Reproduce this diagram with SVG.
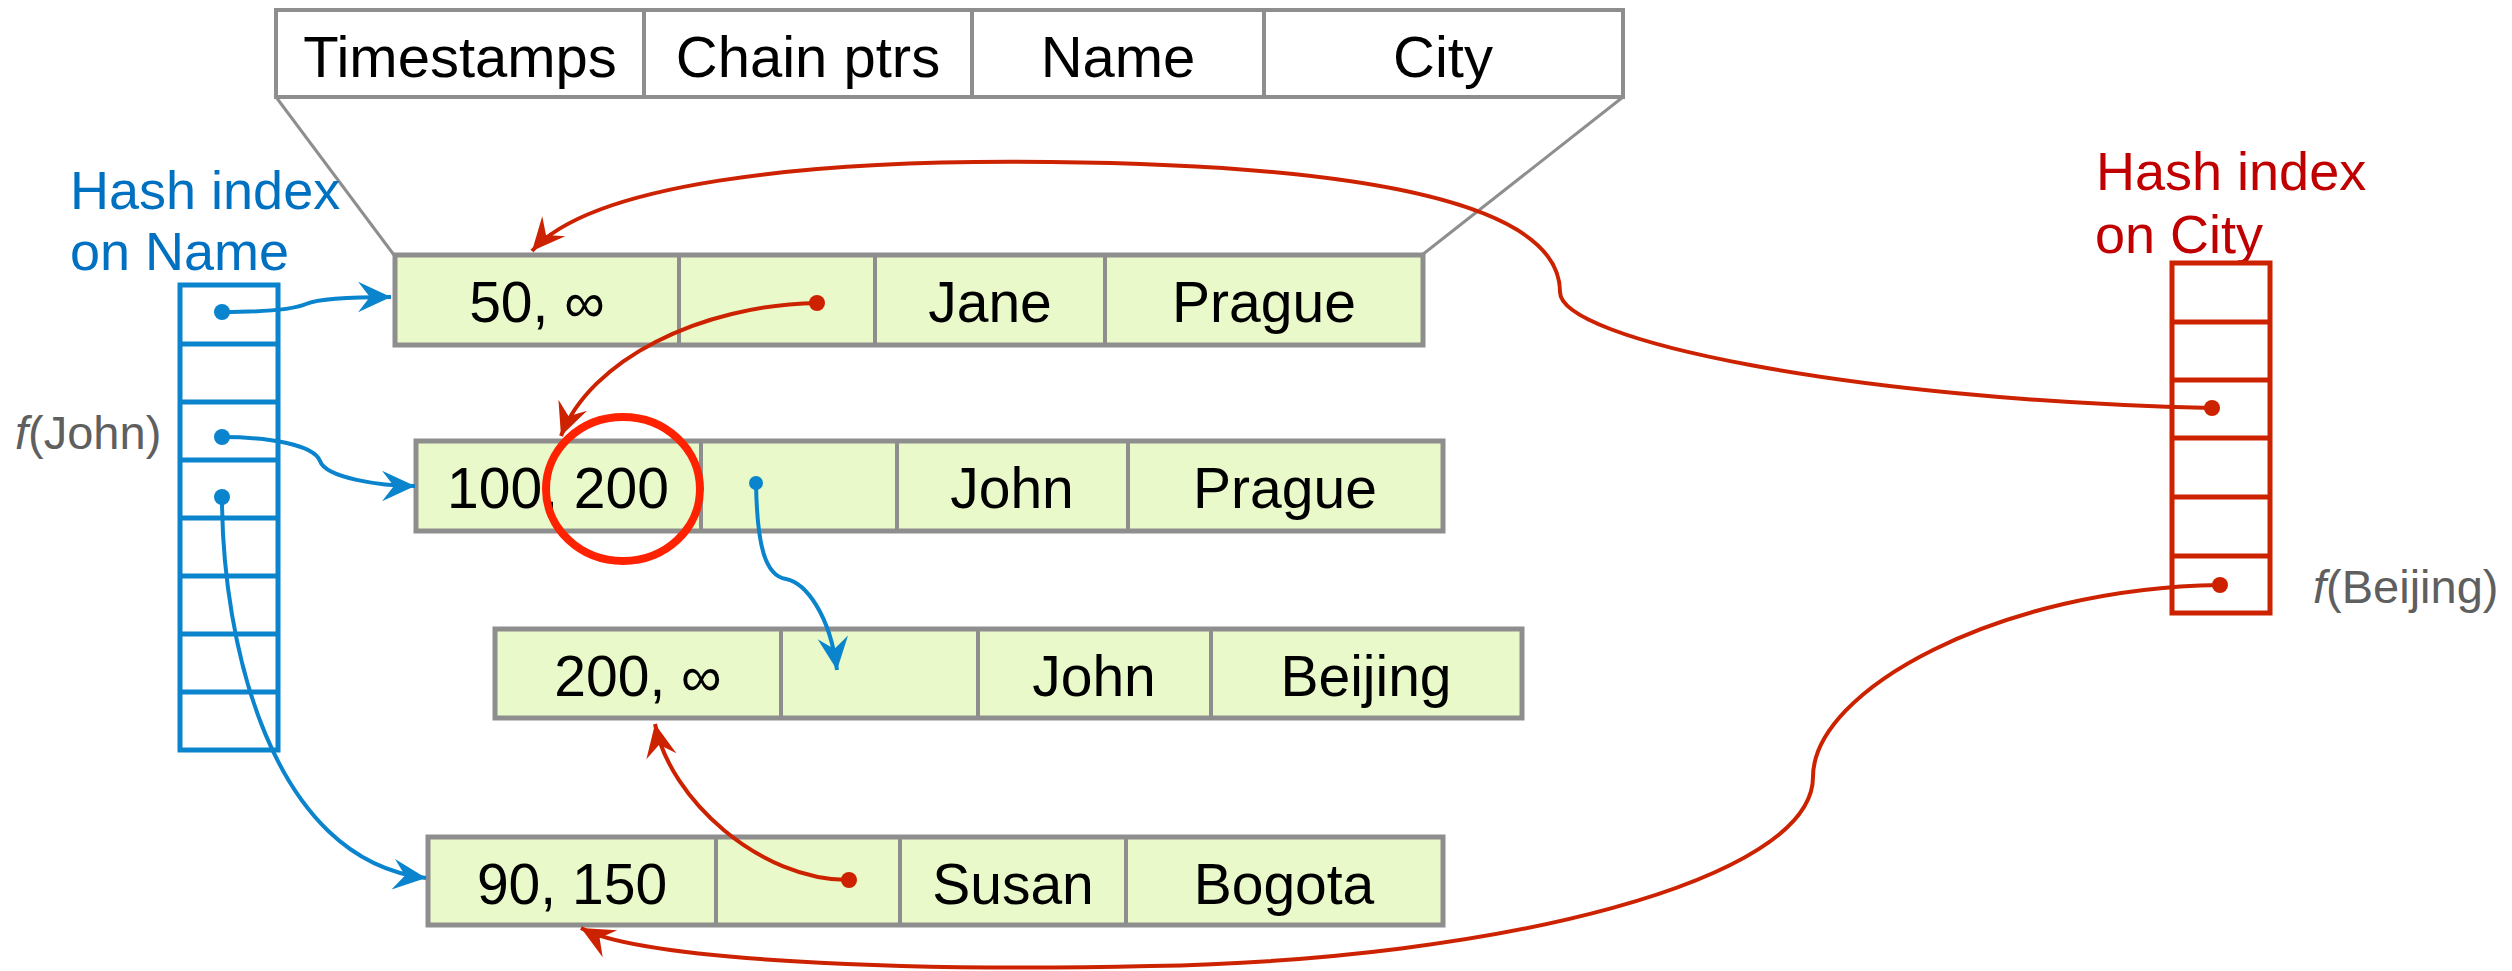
<svg xmlns="http://www.w3.org/2000/svg" width="2512" height="971" viewBox="0 0 2512 971">
  <defs>
    <style>
      .cell { fill: #e9f9ca; stroke: #8e8e8e; stroke-width: 5; }
      .div { stroke: #8e8e8e; stroke-width: 4; }
      .hdr { fill: #ffffff; stroke: #8e8e8e; stroke-width: 4; }
      .txt { font-family: "Liberation Sans", Arial, sans-serif; font-size: 57px; fill: #000000; text-anchor: middle; }
      .hdrtxt { font-family: "Liberation Sans", Arial, sans-serif; font-size: 58px; fill: #000000; text-anchor: middle; }
      .lbl { font-family: "Liberation Sans", Arial, sans-serif; font-size: 54px; }
      .fn { font-family: "Liberation Sans", Arial, sans-serif; font-size: 47px; fill: #5f5f5f; }
      .bidx { fill: none; stroke: #0a84cc; stroke-width: 5; }
      .ridx { fill: none; stroke: #cc2200; stroke-width: 5; }
      .blue { fill: none; stroke: #0a84cc; stroke-width: 4; }
      .red { fill: none; stroke: #cc2200; stroke-width: 4; }
      .bdot { fill: #0a84cc; }
      .rdot { fill: #cc2200; }
    </style>
    <marker id="arrowBlue" markerUnits="userSpaceOnUse" markerWidth="40" markerHeight="40" viewBox="-30 -16 34 32" refX="0" refY="0" orient="auto">
      <path d="M0,0 L-28,-13 L-18,0 L-28,13 Z" fill="#0a84cc"/>
    </marker>
    <marker id="arrowRed" markerUnits="userSpaceOnUse" markerWidth="40" markerHeight="40" viewBox="-30 -16 34 32" refX="0" refY="0" orient="auto">
      <path d="M0,0 L-28,-13 L-18,0 L-28,13 Z" fill="#cc2200"/>
    </marker>
  </defs>

  <rect width="2512" height="971" fill="#ffffff"/>

  <!-- record layout header with its expansion lines -->
  <g id="header">
    <line x1="276" y1="97" x2="394" y2="255" stroke="#8e8e8e" stroke-width="3"/>
    <line x1="1623" y1="97" x2="1422" y2="255" stroke="#8e8e8e" stroke-width="3"/>
    <rect class="hdr" x="276" y="10" width="1347" height="87"/>
    <line class="div" x1="644" y1="10" x2="644" y2="97"/>
    <line class="div" x1="972" y1="10" x2="972" y2="97"/>
    <line class="div" x1="1264" y1="10" x2="1264" y2="97"/>
    <text class="hdrtxt" x="460" y="77">Timestamps</text>
    <text class="hdrtxt" x="808" y="77">Chain ptrs</text>
    <text class="hdrtxt" x="1118" y="77">Name</text>
    <text class="hdrtxt" x="1443" y="77">City</text>
  </g>

  <!-- record versions -->
  <g id="row-jane">
    <rect class="cell" x="395" y="255" width="1028" height="90"/>
    <line class="div" x1="679" y1="255" x2="679" y2="345"/>
    <line class="div" x1="875" y1="255" x2="875" y2="345"/>
    <line class="div" x1="1105" y1="255" x2="1105" y2="345"/>
    <text class="txt" x="537" y="322">50, ∞</text>
    <text class="txt" x="990" y="322">Jane</text>
    <text class="txt" x="1264" y="322">Prague</text>
  </g>

  <g id="row-john-prague">
    <rect class="cell" x="416" y="441" width="1027" height="90"/>
    <line class="div" x1="701" y1="441" x2="701" y2="531"/>
    <line class="div" x1="897" y1="441" x2="897" y2="531"/>
    <line class="div" x1="1128" y1="441" x2="1128" y2="531"/>
    <text class="txt" x="558" y="508">100, 200</text>
    <text class="txt" x="1012" y="508">John</text>
    <text class="txt" x="1285" y="508">Prague</text>
  </g>

  <g id="row-john-beijing">
    <rect class="cell" x="495" y="629" width="1027" height="89"/>
    <line class="div" x1="781" y1="629" x2="781" y2="718"/>
    <line class="div" x1="978" y1="629" x2="978" y2="718"/>
    <line class="div" x1="1211" y1="629" x2="1211" y2="718"/>
    <text class="txt" x="638" y="696">200, ∞</text>
    <text class="txt" x="1094" y="696">John</text>
    <text class="txt" x="1366" y="696">Beijing</text>
  </g>

  <g id="row-susan">
    <rect class="cell" x="428" y="837" width="1015" height="88"/>
    <line class="div" x1="716" y1="837" x2="716" y2="925"/>
    <line class="div" x1="900" y1="837" x2="900" y2="925"/>
    <line class="div" x1="1126" y1="837" x2="1126" y2="925"/>
    <text class="txt" x="572" y="904">90, 150</text>
    <text class="txt" x="1013" y="904">Susan</text>
    <text class="txt" x="1284" y="904">Bogota</text>
  </g>

  <!-- hash index on Name -->
  <g id="index-name">
    <text class="lbl" x="70" y="209" fill="#0070c0">Hash index</text>
    <text class="lbl" x="70" y="270" fill="#0070c0">on Name</text>
    <text class="fn" x="15" y="449"><tspan font-style="italic">f</tspan>(John)</text>
    <rect class="bidx" x="180" y="285" width="98" height="465"/>
    <line class="bidx" x1="180" y1="344" x2="278" y2="344"/>
    <line class="bidx" x1="180" y1="402" x2="278" y2="402"/>
    <line class="bidx" x1="180" y1="460" x2="278" y2="460"/>
    <line class="bidx" x1="180" y1="518" x2="278" y2="518"/>
    <line class="bidx" x1="180" y1="576" x2="278" y2="576"/>
    <line class="bidx" x1="180" y1="634" x2="278" y2="634"/>
    <line class="bidx" x1="180" y1="692" x2="278" y2="692"/>
  </g>

  <!-- hash index on City -->
  <g id="index-city">
    <text class="lbl" x="2096" y="190" fill="#c00000">Hash index</text>
    <text class="lbl" x="2095" y="253" fill="#c00000">on City</text>
    <text class="fn" x="2313" y="603"><tspan font-style="italic">f</tspan>(Beijing)</text>
    <rect class="ridx" x="2172" y="263" width="98" height="350"/>
    <line class="ridx" x1="2172" y1="322" x2="2270" y2="322"/>
    <line class="ridx" x1="2172" y1="380" x2="2270" y2="380"/>
    <line class="ridx" x1="2172" y1="438" x2="2270" y2="438"/>
    <line class="ridx" x1="2172" y1="497" x2="2270" y2="497"/>
    <line class="ridx" x1="2172" y1="556" x2="2270" y2="556"/>
  </g>

  <!-- pointers -->
  <g id="connectors">
    <!-- name index -->
    <path class="blue" d="M222,312 C262,312 292,310 306,304 C320,298 360,297 391,297" marker-end="url(#arrowBlue)"/>
    <path class="blue" d="M222,437 C270,437 314,445 320,461 C326,478 380,486 415,486" marker-end="url(#arrowBlue)"/>
    <path class="blue" d="M222,497 C222,640 270,860 426,878" marker-end="url(#arrowBlue)"/>
    <!-- version chain -->
    <path class="blue" d="M756,483 C757,545 765,576 786,579 C806,583 830,615 837,670" marker-end="url(#arrowBlue)"/>
    <path class="red" d="M817,303 C700,305 590,360 561,436" marker-end="url(#arrowRed)"/>
    <path class="red" d="M849,880 C760,880 670,800 655,724" marker-end="url(#arrowRed)"/>
    <!-- city index -->
    <path class="red" d="M2212,408 C1850,400 1560,340 1560,292 C1560,200 1350,165 1050,162 C800,159 590,185 532,251" marker-end="url(#arrowRed)"/>
    <path class="red" d="M2220,585 C2000,588 1813,690 1813,777 C1813,880 1500,960 1150,966 C900,972 640,960 581,928" marker-end="url(#arrowRed)"/>

    <circle class="bdot" cx="222" cy="312" r="8"/>
    <circle class="bdot" cx="222" cy="437" r="8"/>
    <circle class="bdot" cx="222" cy="497" r="8"/>
    <circle class="bdot" cx="756" cy="483" r="7"/>
    <circle class="rdot" cx="817" cy="303" r="8"/>
    <circle class="rdot" cx="849" cy="880" r="8"/>
    <circle class="rdot" cx="2212" cy="408" r="8"/>
    <circle class="rdot" cx="2220" cy="585" r="8"/>
  </g>

  <!-- highlighted end timestamp -->
  <ellipse id="highlight" cx="623" cy="489" rx="77" ry="72" fill="none" stroke="#ff2200" stroke-width="8"/>
</svg>
